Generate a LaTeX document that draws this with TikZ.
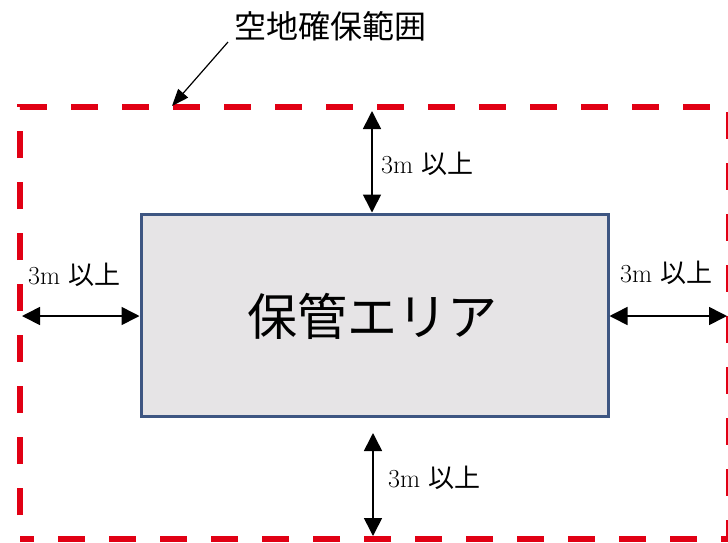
\documentclass[tikz,border=0pt]{standalone}
\usepackage{fontspec}
\newfontfamily\jp{Noto Sans CJK JP}
\usetikzlibrary{arrows.meta}
\definecolor{zoneRed}{RGB}{225,0,20}
\definecolor{areaBlue}{RGB}{62,86,130}
\definecolor{areaGray}{RGB}{230,228,230}
\begin{document}
\begin{tikzpicture}[
            x = 1pt, y = -1pt,
            every node/.style={text depth=0pt, inner sep=0pt},
            zone/.style={draw=zoneRed, line width=6pt, dash pattern=on 27pt off 24pt, dash phase=27pt},
            area/.style={draw=areaBlue, fill=areaGray, line width=3pt, minimum width=467pt, minimum height=202pt},
            dim/.style={line width=1.6pt, {Triangle[length=18pt,width=18pt]}-{Triangle[length=18pt,width=18pt]}},
            lab/.style={anchor=west, font=\fontsize{26}{26}\selectfont},
            ]
        \useasboundingbox (0,0) rectangle (728,542);
        \draw[zone] (20,539) -- (20,107) -- (729,107) -- (729,539) -- cycle;

        \node[area] (area) at (374.5,315) {};
        \node[font=\jp\fontsize{50}{50}\selectfont] (areatext) at (372,314) {保管エリア};

        \node[font=\jp\fontsize{32}{32}\selectfont] (title) at (330,25) {空地確保範囲};
        \coordinate (leadstart) at (228,42);
        \coordinate (leadend) at (172,106);
        \draw[line width=1.2pt, -{Triangle[length=17pt,width=13pt]}] (leadstart) -- (leadend);

        \coordinate (topend) at (372,111);
        \coordinate (leftend) at (22,316);
        \coordinate (rightend) at (727,316);
        \coordinate (bottop) at (373,433);
        \coordinate (botend) at (373,536);

        \draw[dim] (topend) -- (topend |- area.north);
        \draw[dim] (leftend) -- (area.west |- leftend);
        \draw[dim] (area.east |- rightend) -- (rightend);
        \draw[dim] (bottop) -- (botend);

        \node[lab] (toplab) at (381,163) {3m {\jp 以上}};
        \node[lab] (leftlab) at (28,274) {3m {\jp 以上}};
        \node[lab] (rightlab) at (620,272) {3m {\jp 以上}};
        \node[lab] (botlab) at (388,477) {3m {\jp 以上}};
    \end{tikzpicture}
\end{document}
